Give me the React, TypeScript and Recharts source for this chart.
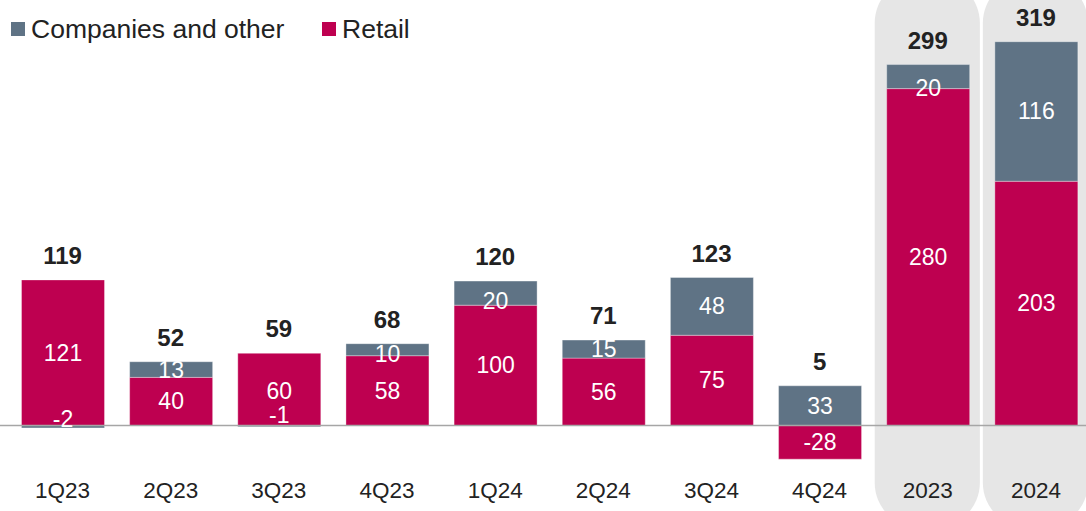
import React from 'react';
import {
  ComposedChart,
  Bar,
  Line,
  XAxis,
  YAxis,
  ReferenceLine,
  ReferenceArea,
  LabelList,
} from 'recharts';

// ---- data ----
const categories = ['1Q23', '2Q23', '3Q23', '4Q23', '1Q24', '2Q24', '3Q24', '4Q24', '2023', '2024'];
const retail = [121, 40, 60, 58, 100, 56, 75, -28, 280, 203];
const companiesAndOther = [-2, 13, -1, 10, 20, 15, 48, 33, 20, 116];
const totals = [119, 52, 59, 68, 120, 71, 123, 5, 299, 319];
const highlightedCategories = ['2023', '2024'];

const data = categories.map((cat, i) => ({
  cat,
  retail: retail[i],
  companies: companiesAndOther[i],
  total: totals[i],
  top: Math.max(retail[i], 0) + Math.max(companiesAndOther[i], 0),
}));

// ---- styles ----
const COLOR_RETAIL = '#BE0050';
const COLOR_COMP = '#5F7385';
const COLOR_BG = '#E6E6E6';
const COLOR_TEXT = '#222222';
const FONT = '"Liberation Sans", Arial, Helvetica, sans-serif';

// small vertical nudges for some inner labels (px)
const companiesLabelNudge: Record<string, number> = {
  '1Q23': -7.5,
  '3Q23': -11,
  '4Q23': 4,
  '1Q24': 8,
  '2023': 11.5,
};
const retailLabelNudge: Record<string, number> = {
  '3Q23': 2,
};

const makeInnerLabel = (nudge: Record<string, number>) => (props: any) => {
  const { x, y, width, height, value, index } = props;
  if (value === undefined || value === null) return null;
  const off = nudge[categories[index]] ?? 0;
  return (
    <text
      x={Number(x) + Number(width) / 2}
      y={Number(y) + Number(height) / 2 + off}
      fill="#ffffff"
      fontSize={23}
      fontFamily={FONT}
      textAnchor="middle"
      dominantBaseline="central"
    >
      {value}
    </text>
  );
};

const TotalLabel = (props: any) => {
  const { x, y, value } = props;
  return (
    <text
      x={Number(x)}
      y={Number(y) - 24.5}
      fill={COLOR_TEXT}
      fontSize={24}
      fontWeight="bold"
      fontFamily={FONT}
      textAnchor="middle"
      dominantBaseline="central"
    >
      {value}
    </text>
  );
};

const HighlightShape = (props: any) => {
  const { x, y, width, height } = props;
  return (
    <rect
      x={Number(x) + 1}
      y={Number(y)}
      width={Number(width) - 3}
      height={Number(height)}
      rx={45}
      ry={45}
      fill={COLOR_BG}
    />
  );
};

const legendItems = [
  { label: 'Companies and other', color: COLOR_COMP, left: 11 },
  { label: 'Retail', color: COLOR_RETAIL, left: 322 },
];

export default function App() {
  return (
    <div
      style={{
        position: 'absolute',
        left: 0,
        top: 0,
        width: 1086,
        height: 511,
        overflow: 'hidden',
        background: '#ffffff',
      }}
    >
      <ComposedChart
        width={1090}
        height={511}
        data={data}
        stackOffset="sign"
        margin={{ top: 4.4, right: 0, bottom: 0, left: 0 }}
      >
        {highlightedCategories.map((c) => (
          <ReferenceArea
            key={c}
            x1={c}
            x2={c}
            y1={-85}
            y2={372}
            ifOverflow="visible"
            shape={HighlightShape}
          />
        ))}
        <XAxis
          dataKey="cat"
          axisLine={false}
          tickLine={false}
          height={43.4}
          padding={{ left: 8.5, right: 0 }}
          tickMargin={8}
          interval={0}
          tick={{ fontSize: 22.5, fill: COLOR_TEXT, fontFamily: FONT }}
        />
        <YAxis hide domain={[-35, 350]} type="number" allowDataOverflow />
        <ReferenceLine y={0} stroke="#A6A6A6" strokeWidth={1.5} />
        <Bar
          dataKey="retail"
          stackId="a"
          fill={COLOR_RETAIL}
          barSize={83}
          stroke="rgba(255,255,255,0.35)"
          strokeWidth={1}
          isAnimationActive={false}
        >
          <LabelList dataKey="retail" content={makeInnerLabel(retailLabelNudge)} />
        </Bar>
        <Bar
          dataKey="companies"
          stackId="a"
          fill={COLOR_COMP}
          barSize={83}
          stroke="rgba(255,255,255,0.35)"
          strokeWidth={1}
          isAnimationActive={false}
        >
          <LabelList dataKey="companies" content={makeInnerLabel(companiesLabelNudge)} />
        </Bar>
        <Line
          dataKey="top"
          stroke="none"
          dot={false}
          activeDot={false}
          legendType="none"
          isAnimationActive={false}
        >
          <LabelList dataKey="total" content={TotalLabel} />
        </Line>
      </ComposedChart>
      {legendItems.map((it) => (
        <div
          key={it.label}
          style={{
            position: 'absolute',
            left: it.left,
            top: 14,
            display: 'flex',
            alignItems: 'center',
            fontFamily: FONT,
            fontSize: 26.5,
            color: COLOR_TEXT,
            lineHeight: '30px',
            whiteSpace: 'nowrap',
          }}
        >
          <span
            style={{
              display: 'inline-block',
              width: 14,
              height: 14,
              background: it.color,
              marginRight: 6,
            }}
          />
          <span>{it.label}</span>
        </div>
      ))}
    </div>
  );
}
